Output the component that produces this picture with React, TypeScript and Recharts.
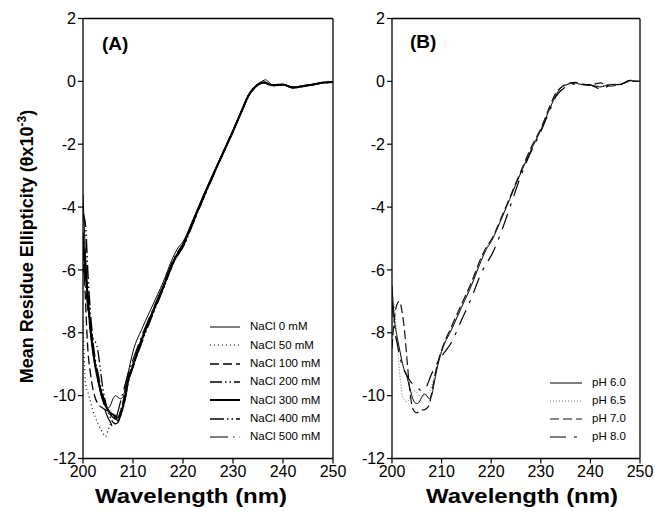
import React from 'react';
import { LineChart, Line, XAxis, YAxis, ReferenceLine, Legend, Label } from 'recharts';

const FONT = '"Liberation Sans", Arial, Helvetica, sans-serif';

// ---------- Panel A : NaCl series ----------
const WL_A = [200, 200.5, 201, 201.5, 202, 202.5, 203, 203.5, 204, 204.5, 205, 205.5, 206, 206.5, 207, 207.5, 208, 208.5, 209,
  210, 212, 214, 216, 218, 219, 220,
  222, 224, 226, 228, 230, 232,
  233, 234, 235, 236, 236.5, 237, 238,
  240, 242, 244, 246, 248, 250];

const NACL_0 = [-3.6, -5.5, -6.8, -7.7, -8.4, -9.0, -9.5, -9.9, -10.2, -10.35, -10.4, -10.3, -10.1, -10.0, -10.05, -10.1, -10.05, -9.7, -9.3,
  -8.6, -7.8, -7.1, -6.4, -5.6, -5.3, -5.1,
  -4.4, -3.65, -2.95, -2.25, -1.55, -0.8,
  -0.45, -0.22, -0.08, 0.02, 0.05, 0.0, -0.12,
  -0.1, -0.18, -0.14, -0.1, -0.04, -0.02];
const NACL_50 = [-7.5, -9.6, -9.9, -10.2, -10.5, -10.7, -10.9, -11.05, -11.2, -11.3, -11.1, -10.9, -10.75, -10.65, -10.6, -10.5, -10.2, -9.8, -9.4,
  -8.9, -8.05, -7.3, -6.6, -5.75, -5.45, -5.2,
  -4.5, -3.75, -3.0, -2.3, -1.6, -0.85,
  -0.5, -0.27, -0.12, -0.05, -0.05, -0.08, -0.13,
  -0.12, -0.2, -0.15, -0.1, -0.05, -0.03];
const NACL_100 = [-5.0, -7.0, -8.6, -9.3, -9.8, -10.1, -10.25, -10.35, -10.4, -10.45, -10.5, -10.6, -10.7, -10.75, -10.7, -10.5, -10.2, -9.85, -9.45,
  -9.0, -8.1, -7.35, -6.6, -5.8, -5.5, -5.25,
  -4.5, -3.75, -3.0, -2.3, -1.6, -0.85,
  -0.5, -0.27, -0.12, -0.05, -0.06, -0.1, -0.14,
  -0.12, -0.2, -0.15, -0.1, -0.05, -0.03];
const NACL_200 = [-4.8, -5.8, -7.0, -7.8, -8.2, -8.3, -8.6, -9.2, -9.8, -10.2, -10.5, -10.7, -10.85, -10.9, -10.85, -10.6, -10.3, -9.95, -9.5,
  -9.05, -8.15, -7.35, -6.6, -5.8, -5.52, -5.25,
  -4.5, -3.72, -3.0, -2.28, -1.58, -0.83,
  -0.48, -0.25, -0.1, -0.04, -0.04, -0.08, -0.12,
  -0.1, -0.19, -0.15, -0.1, -0.04, -0.02];
const NACL_300 = [-5.0, -6.0, -7.0, -7.9, -8.6, -9.1, -9.5, -9.8, -10.1, -10.3, -10.45, -10.55, -10.6, -10.65, -10.7, -10.6, -10.35, -10.0, -9.55,
  -9.05, -8.1, -7.3, -6.55, -5.75, -5.45, -5.2,
  -4.45, -3.7, -2.98, -2.28, -1.58, -0.85,
  -0.48, -0.25, -0.1, -0.04, -0.04, -0.08, -0.12,
  -0.1, -0.2, -0.15, -0.1, -0.04, -0.02];
const NACL_400 = [-4.2, -4.6, -6.2, -7.4, -8.3, -8.9, -9.3, -9.7, -10.0, -10.3, -10.5, -10.6, -10.65, -10.7, -10.8, -10.65, -10.4, -10.05, -9.6,
  -9.1, -8.2, -7.4, -6.62, -5.82, -5.52, -5.27,
  -4.52, -3.75, -3.02, -2.3, -1.6, -0.86,
  -0.5, -0.26, -0.11, -0.05, -0.05, -0.09, -0.13,
  -0.11, -0.2, -0.16, -0.11, -0.05, -0.02];
const NACL_500 = [-5.8, -6.5, -7.3, -8.0, -8.6, -9.1, -9.5, -9.9, -10.2, -10.5, -10.7, -10.85, -11.0, -10.8, -10.5, -10.2, -9.9, -9.6, -9.3,
  -8.85, -8.0, -7.25, -6.5, -5.7, -5.42, -5.18,
  -4.45, -3.7, -2.97, -2.27, -1.57, -0.83,
  -0.47, -0.24, -0.09, -0.03, -0.02, -0.07, -0.12,
  -0.1, -0.19, -0.14, -0.1, -0.04, -0.02];

// ---------- Panel B : pH series ----------
const WL_B = [200, 200.5, 201, 201.5, 202, 202.5, 203, 203.5, 204, 204.5, 205, 205.5, 206, 206.5, 207, 207.5, 208, 208.5, 209,
  210, 212, 214, 216, 218, 219, 220,
  222, 224, 226, 228, 230, 232,
  233, 234, 235, 236, 237, 238,
  240, 241, 242, 243, 244, 246, 248, 250];

const PH_60 = [-6.5, -7.6, -8.1, -8.5, -8.9, -9.2, -9.4, -9.7, -10.0, -10.2, -10.25, -10.2, -10.05, -9.95, -10.0, -10.1, -10.0, -9.6, -9.2,
  -8.6, -7.9, -7.2, -6.5, -5.7, -5.35, -5.1,
  -4.4, -3.65, -2.9, -2.2, -1.55, -0.8,
  -0.45, -0.22, -0.12, -0.07, -0.05, -0.1,
  -0.12, -0.15, -0.18, -0.14, -0.1, -0.1, 0.02, 0.0];
const PH_65 = [-6.8, -7.2, -8.2, -9.2, -9.9, -10.15, -10.2, -10.1, -9.9, -9.85, -9.9, -10.0, -10.05, -10.0, -9.95, -9.9, -9.7, -9.4, -9.05,
  -8.55, -7.85, -7.15, -6.45, -5.65, -5.3, -5.08,
  -4.38, -3.63, -2.88, -2.18, -1.53, -0.78,
  -0.43, -0.2, -0.1, -0.05, -0.04, -0.08,
  -0.1, -0.12, -0.15, -0.12, -0.09, -0.08, 0.03, 0.01];
const PH_70 = [-8.5, -7.5, -7.1, -7.0, -7.3, -7.9, -8.8, -9.7, -10.3, -10.5, -10.55, -10.5, -10.45, -10.45, -10.4, -10.3, -9.9, -9.5, -9.1,
  -8.55, -7.8, -7.1, -6.4, -5.6, -5.28, -5.05,
  -4.35, -3.6, -2.85, -2.12, -1.5, -0.72,
  -0.38, -0.2, -0.1, -0.05, -0.03, -0.08,
  -0.1, -0.08, -0.05, -0.1, -0.15, -0.1, 0.0, 0.0];
const PH_80 = [-7.0, -7.9, -8.3, -8.7, -9.0, -9.2, -9.35, -9.5, -9.6, -9.65, -9.7, -9.8, -9.85, -9.8, -9.7, -9.5, -9.3, -9.15, -9.0,
  -8.75, -8.3, -7.6, -6.9, -6.1, -5.8, -5.55,
  -4.8, -3.9, -3.0, -2.25, -1.6, -0.85,
  -0.5, -0.3, -0.18, -0.1, -0.08, -0.1,
  -0.12, -0.18, -0.25, -0.2, -0.12, -0.1, 0.03, 0.02];

const X_TICKS = [200, 210, 220, 230, 240, 250];
const Y_TICKS = [-12, -10, -8, -6, -4, -2, 0, 2];

type Series = { key: string; name: string; values: number[]; dash?: string; width: number; color: string };

const SERIES_A: Series[] = [
  { key: 'n0', name: 'NaCl 0 mM', values: NACL_0, width: 1, color: '#000' },
  { key: 'n50', name: 'NaCl 50 mM', values: NACL_50, dash: '1 3', width: 1.2, color: '#000' },
  { key: 'n100', name: 'NaCl 100 mM', values: NACL_100, dash: '9 4', width: 1.3, color: '#000' },
  { key: 'n200', name: 'NaCl 200 mM', values: NACL_200, dash: '12 3 1.5 3 1.5 3', width: 1.3, color: '#000' },
  { key: 'n300', name: 'NaCl 300 mM', values: NACL_300, width: 2, color: '#000' },
  { key: 'n400', name: 'NaCl 400 mM', values: NACL_400, dash: '14 3 1.5 3 1.5 3', width: 1.5, color: '#000' },
  { key: 'n500', name: 'NaCl 500 mM', values: NACL_500, dash: '18 5 1.5 5', width: 1.2, color: '#000' },
];

const SERIES_B: Series[] = [
  { key: 'p60', name: 'pH 6.0', values: PH_60, width: 1, color: '#000' },
  { key: 'p65', name: 'pH 6.5', values: PH_65, dash: '1 2', width: 1, color: '#666' },
  { key: 'p70', name: 'pH 7.0', values: PH_70, dash: '9 4', width: 1.2, color: '#111' },
  { key: 'p80', name: 'pH 8.0', values: PH_80, dash: '16 8 3 8', width: 1.2, color: '#000' },
];

function buildData(xs: number[], series: Series[]) {
  return xs.map((x, i) => {
    const row: Record<string, number> = { wl: x };
    series.forEach((s) => { row[s.key] = s.values[i]; });
    return row;
  });
}

const DATA_A = buildData(WL_A, SERIES_A);
const DATA_B = buildData(WL_B, SERIES_B);

const tickStyle = { fontFamily: FONT, fontSize: 16, fill: '#000' };

function makeLegend(series: Series[], lineW: number, gap: number, rowH: number) {
  return () => (
    <div style={{ fontFamily: FONT, fontSize: 11.5, color: '#000', lineHeight: 1 }}>
      {series.map((s) => (
        <div key={s.key} style={{ display: 'flex', alignItems: 'center', height: rowH }}>
          <svg width={lineW} height={6} style={{ marginRight: gap, overflow: 'visible' }}>
            <line x1={0} x2={lineW} y1={3} y2={3} stroke={s.color} strokeWidth={s.width} strokeDasharray={s.dash} />
          </svg>
          <span style={{ whiteSpace: 'nowrap' }}>{s.name}</span>
        </div>
      ))}
    </div>
  );
}

function XTitle(cx: number) {
  return (
    <Label
      content={() => (
        <text x={cx} y={503} textAnchor="middle" fontFamily={FONT} fontSize={20} fontWeight="bold" fill="#000"
          textLength={192} lengthAdjust="spacingAndGlyphs">
          Wavelength (nm)
        </text>
      )}
    />
  );
}

function PanelTag(x: number, y: number, txt: string) {
  return (
    <Label
      content={() => (
        <text x={x} y={y} fontFamily={FONT} fontSize={19} fontWeight="bold" fill="#000">{txt}</text>
      )}
    />
  );
}

function Panel(props: {
  data: Record<string, number>[]; series: Series[]; width: number; margin: any;
  xTitleX: number; tag: string; tagX: number; tagY: number; legendLeft: number; legendTop: number;
  legendLineW: number; legendRowH: number; yTitle?: boolean;
}) {
  const { data, series, width, margin } = props;
  return (
    <LineChart width={width} height={528} data={data} margin={margin}>
      <XAxis dataKey="wl" type="number" domain={[200, 250]} ticks={X_TICKS} allowDataOverflow
        tick={tickStyle} tickSize={5} tickMargin={2} height={30}
        axisLine={{ stroke: '#000', strokeWidth: 1.3 }} tickLine={{ stroke: '#000', strokeWidth: 1.2 }}
        label={XTitle(props.xTitleX)} />
      <YAxis type="number" domain={[-12, 2]} ticks={Y_TICKS} allowDataOverflow interval={0}
        tick={tickStyle} tickSize={5} tickMargin={2} width={40}
        axisLine={{ stroke: '#000', strokeWidth: 1.3 }} tickLine={{ stroke: '#000', strokeWidth: 1.2 }}
        label={props.yTitle ? (
          <Label content={() => (
            <text transform="translate(33,246.5) rotate(-90)" textAnchor="middle" fontFamily={FONT} fontSize={18}
              fontWeight="bold" fill="#000">
              Mean Residue Ellipticity (θx10<tspan dy={-7} fontSize={12}>-3</tspan><tspan dy={7}>)</tspan>
            </text>
          )} />
        ) : undefined} />
      <ReferenceLine y={2} stroke="#000" strokeWidth={1.3} label={PanelTag(props.tagX, props.tagY, props.tag)} />
      <ReferenceLine x={250} stroke="#000" strokeWidth={1.3} />
      {series.map((s) => (
        <Line key={s.key} dataKey={s.key} name={s.name} type="monotone" stroke={s.color} strokeWidth={s.width}
          strokeDasharray={s.dash} dot={false} activeDot={false} isAnimationActive={false} />
      ))}
      <Legend layout="horizontal" verticalAlign="middle" align="center"
        wrapperStyle={{ left: props.legendLeft, top: props.legendTop, width: 140, height: 'auto' }}
        content={makeLegend(series, props.legendLineW, 10, props.legendRowH)} />
    </LineChart>
  );
}

export default function App() {
  return (
    <div style={{ position: 'absolute', left: 0, top: 0, width: 655, height: 528, background: '#fff', overflow: 'hidden' }}>
      <div style={{ position: 'absolute', left: 0, top: 0 }}>
        <Panel data={DATA_A} series={SERIES_A} width={360}
          margin={{ top: 18.5, right: 27, bottom: 39.5, left: 43 }}
          xTitleX={191} tag="(A)" tagX={102} tagY={50} legendLeft={210} legendTop={318}
          legendLineW={30} legendRowH={18.3} yTitle />
      </div>
      <div style={{ position: 'absolute', left: 340, top: 0 }}>
        <Panel data={DATA_B} series={SERIES_B} width={315}
          margin={{ top: 18.5, right: 15, bottom: 39.5, left: 12 }}
          xTitleX={182} tag="(B)" tagX={70} tagY={48} legendLeft={210} legendTop={374}
          legendLineW={32} legendRowH={18} />
      </div>
    </div>
  );
}
